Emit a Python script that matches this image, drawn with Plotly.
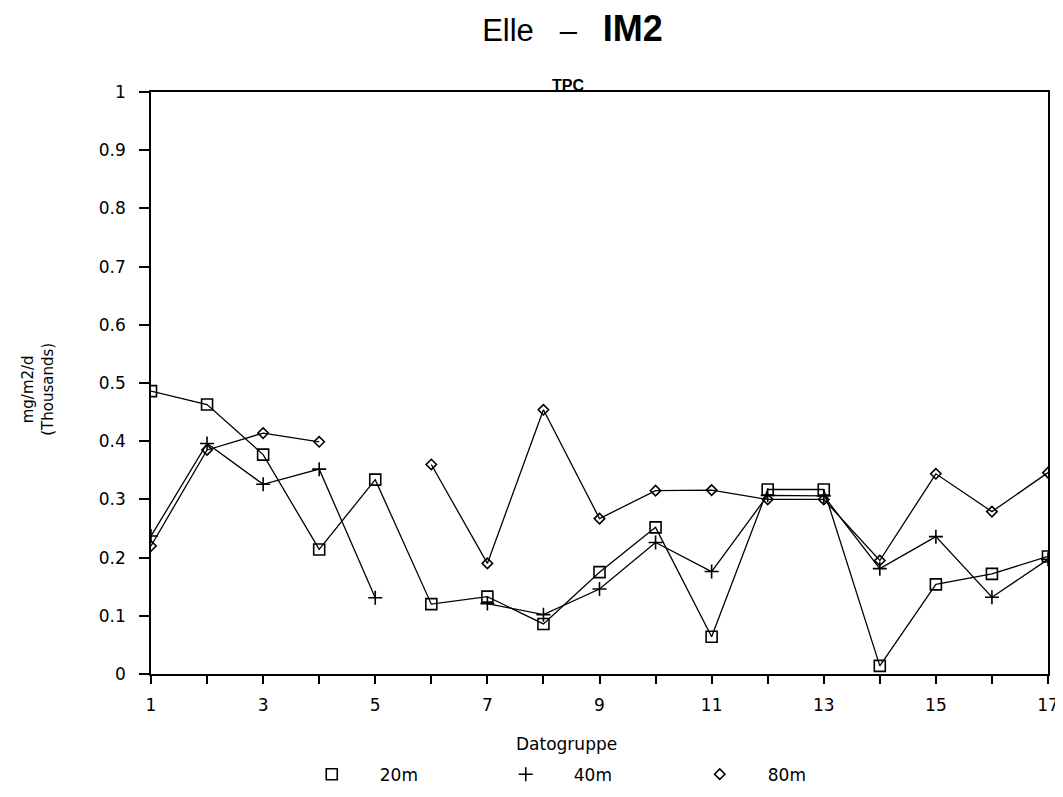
import plotly.graph_objects as go

# Datogruppe 1..17, values in thousands of mg/m2/d
groups = list(range(1, 18))
tpc_20m = [0.486, 0.463, 0.377, 0.214, 0.334, 0.120, 0.133, 0.086, 0.175,
           0.252, 0.064, 0.317, 0.317, 0.014, 0.154, 0.172, 0.202]
tpc_40m = [0.237, 0.396, 0.326, 0.352, 0.131, None, 0.121, 0.102, 0.146,
           0.226, 0.176, 0.307, 0.306, 0.181, 0.236, 0.132, 0.197]
tpc_80m = [0.220, 0.385, 0.414, 0.399, None, 0.360, 0.190, 0.454, 0.267,
           0.315, 0.316, 0.300, 0.300, 0.195, 0.344, 0.279, 0.346]

series = [
    ("20m", tpc_20m, "square-open", 11),
    ("40m", tpc_40m, "cross-thin-open", 10),
    ("80m", tpc_80m, "diamond-open", 8),
]

y_ticks = [0, 0.1, 0.2, 0.3, 0.4, 0.5, 0.6, 0.7, 0.8, 0.9, 1]
x_ticktext = [str(g) if g % 2 == 1 else "" for g in groups]

fig = go.Figure()

for name, vals, sym, sz in series:
    fig.add_trace(go.Scatter(
        x=groups, y=vals, mode="lines+markers", name=name,
        line=dict(color="black", width=1.3),
        marker=dict(symbol=sym, size=sz, color="black",
                    line=dict(color="black", width=1.6)),
        connectgaps=False, showlegend=False,
    ))
    # legend entry: marker only, like the original
    fig.add_trace(go.Scatter(
        x=[None], y=[None], mode="markers", name=name,
        marker=dict(symbol=sym, size=sz, color="black",
                    line=dict(color="black", width=1.6)),
    ))

fig.update_xaxes(
    range=[1, 17], tickvals=groups, ticktext=x_ticktext,
    ticks="outside", ticklen=8, tickwidth=1.5, tickcolor="black",
    ticklabelstandoff=7,
    showline=True, linecolor="black", linewidth=1.6, mirror=True,
    showgrid=False, zeroline=False,
    tickfont=dict(family="DejaVu Sans", size=17, color="black"),
)
fig.update_yaxes(
    range=[0, 1], tickvals=y_ticks,
    ticks="outside", ticklen=10, tickwidth=1.5, tickcolor="black",
    ticklabelstandoff=10,
    showline=True, linecolor="black", linewidth=1.6, mirror=True,
    showgrid=False, zeroline=False,
    tickfont=dict(family="DejaVu Sans", size=17, color="black"),
)

nb = "\u00a0"
fig.update_layout(
    width=1063, height=797,
    margin=dict(l=143, r=15, t=84, b=105),
    paper_bgcolor="white", plot_bgcolor="white",
    title=dict(
        text="Elle" + nb * 3 + "\u2013" + nb * 3
             + "<span style='font-size:36px'><b>IM2</b></span>",
        x=0.531, xanchor="center", y=0.972, yanchor="middle",
        font=dict(family="Liberation Sans", size=31, color="black"),
    ),
    legend=dict(
        orientation="h", x=0.148, xanchor="left", y=-0.142, yanchor="top",
        itemwidth=86, entrywidth=93, entrywidthmode="pixels",
        font=dict(family="DejaVu Sans", size=17, color="black"),
        bgcolor="rgba(0,0,0,0)",
    ),
)

fig.add_annotation(
    text="<b>TPC</b>", xref="paper", yref="paper", x=0.465, y=1.03,
    showarrow=False, font=dict(family="Liberation Sans", size=16, color="black"),
)
fig.add_annotation(
    text="Datogruppe", xref="paper", yref="paper", x=0.463, y=-0.12,
    showarrow=False, yanchor="middle",
    font=dict(family="DejaVu Sans", size=17, color="black"),
)
fig.add_annotation(
    text="mg/m2/d<br>(Thousands)", xref="paper", yref="paper",
    x=-0.126, y=0.49, xanchor="center", yanchor="middle",
    textangle=-90, showarrow=False,
    font=dict(family="DejaVu Sans", size=15, color="black"),
)

fig.write_html("out.html")
